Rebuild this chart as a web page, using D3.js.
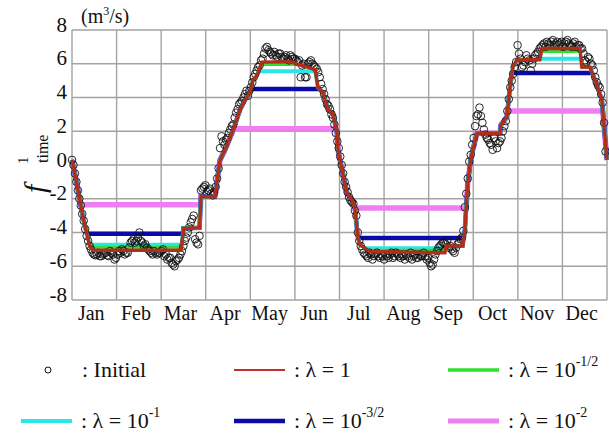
<!DOCTYPE html>
<html>
<head>
<meta charset="utf-8">
<script src="https://cdn.jsdelivr.net/npm/d3@7"></script>
<style>
  body { margin: 0; background: #fff; }
  svg { display: block; }
  text { font-family: "Liberation Serif", "Times New Roman", serif; fill: #111; }
</style>
</head>
<body>
<svg id="chart" width="609" height="434"></svg>
<script>
// Month labels along the horizontal axis (12 equal-width bins over the year)
const months = ["Jan", "Feb", "Mar", "Apr", "May", "Jun", "Jul", "Aug", "Sep", "Oct", "Nov", "Dec"];
const yTicks = [8, 6, 4, 2, 0, -2, -4, -6, -8];

// Initial estimate on even days of the year (day 0, 2, 4, ...)
const initialEven = [
  0.3, -0.5, -1.5, -2.4, -3.3, -4.2, -4.8, -5.2, -5.35, -5.2,
  -5.4, -5.25, -5.35, -5.1, -5.3, -5.5, -5.1, -5.0, -5.3, -5.2,
  -4.6, -4.4, -4.5, -4.0, -4.6, -4.7, -5.0, -5.2, -5.1, -5.3,
  -5.2, -5.0, -5.3, -5.5, -5.8, -6.0, -5.6, -5.3, -4.8, -4.3,
  -3.7, -3.2, -4.4, -4.7, -1.5, -1.3, -1.6, -1.4, -1.8, -1.3,
  -0.2, 1.7, 1.2, 1.6, 2.1, 2.4, 3.1, 3.6, 3.8, 4.2,
  4.1, 4.6, 5.2, 5.6, 5.9, 6.3, 6.9, 6.8, 6.6, 6.7,
  6.4, 6.6, 6.3, 6.5, 6.2, 6.4, 6.3, 6.1, 5.2, 6.0,
  5.2, 6.1, 6.0, 5.8, 5.5, 4.8, 4.2, 3.6, 3.3, 2.8,
  1.9, 1.0, 0.0, -1.0, -1.6, -2.1, -2.3, -3.0, -4.5, -5.0,
  -5.3, -5.5, -5.3, -5.4, -5.2, -5.5, -5.4, -5.3, -5.5, -5.2,
  -5.4, -5.3, -5.5, -5.4, -5.3, -5.5, -5.6, -5.3, -5.5, -5.4,
  -5.2, -5.6, -5.8, -5.9, -5.3, -4.9, -4.7, -4.6, -4.5, -4.8,
  -5.1, -4.9, -4.6, -4.3, -2.5, -0.8, 0.6, 1.6, 2.9, 3.4,
  2.5, 1.8, 1.5, 1.2, 1.6, 1.0, 1.4, 2.0, 2.6, 3.9,
  5.0, 5.8, 7.1, 6.3, 5.9, 6.5, 6.2, 6.0, 6.5, 6.7,
  7.0, 7.2, 7.3, 7.1, 7.4, 7.2, 7.1, 7.3, 7.2, 7.4,
  7.1, 7.2, 7.0, 7.1, 6.9, 6.2, 6.4, 6.0, 5.6, 4.9,
  4.6, 3.7, 0.8
];
// ... and on odd days (day 1, 3, 5, ...)
const initialOdd = [
  0.0, -1.0, -2.0, -2.9, -3.8, -4.5, -5.0, -5.3, -5.3, -5.4,
  -5.3, -5.2, -5.4, -5.2, -5.6, -5.3, -5.2, -5.1, -5.2, -4.9,
  -4.5, -4.6, -4.3, -4.5, -4.8, -4.9, -5.1, -5.3, -5.2, -5.2,
  -5.1, -5.4, -5.6, -5.5, -5.9, -5.7, -5.5, -5.1, -4.5, -4.0,
  -3.4, -3.0, -4.6, -4.2, -1.4, -1.2, -1.5, -1.7, -1.6, -0.8,
  1.0, 1.4, 1.5, 1.9, 2.3, 2.8, 3.3, 3.7, 4.0, 4.4,
  4.4, 4.9, 5.4, 5.8, 6.2, 6.6, 7.0, 6.7, 6.5, 6.5,
  6.6, 6.4, 6.4, 6.3, 6.5, 6.3, 6.2, 6.2, 5.9, 5.2,
  6.0, 6.2, 5.9, 5.7, 5.2, 4.5, 3.9, 3.5, 3.0, 2.4,
  1.4, 0.5, -0.5, -1.3, -1.9, -2.2, -2.7, -4.0, -4.8, -5.2,
  -5.4, -5.2, -5.6, -5.3, -5.4, -5.3, -5.6, -5.4, -5.3, -5.5,
  -5.2, -5.4, -5.3, -5.6, -5.4, -5.2, -5.4, -5.5, -5.3, -5.4,
  -5.4, -5.5, -6.0, -5.6, -5.1, -4.8, -4.6, -4.7, -4.9, -5.0,
  -5.2, -4.7, -4.4, -3.9, -1.7, 0.2, 1.2, 2.3, 3.0, 2.9,
  2.1, 1.6, 1.3, 0.9, 1.4, 1.3, 1.6, 2.3, 3.2, 4.6,
  5.4, 6.1, 6.6, 5.8, 6.1, 6.3, 5.6, 6.3, 6.6, 6.9,
  7.1, 7.0, 7.2, 7.3, 7.1, 7.3, 7.2, 7.0, 7.3, 7.2,
  7.0, 7.3, 7.1, 6.9, 6.6, 6.1, 6.3, 5.9, 5.2, 4.7,
  4.2, 2.5
];
const initialPoints = initialEven.map((v, i) => [i * 2, v])
  .concat(initialOdd.map((v, i) => [i * 2 + 1, v]));

// λ = 1 solution: breakpoints (day of year) and values
const fitDays = [
  0, 3.2, 7.5, 12.3, 14.3, 74.5, 76, 87, 88, 97.5,
  101, 104.4, 110, 114.6, 118, 121.4, 123.5, 126.2, 129.6, 148.7,
  155.5, 165.8, 167.8, 171.2, 174.6, 178, 180.8, 181.5, 182.8, 186.2,
  187.6, 191, 193, 195, 196.5, 198.5, 203.3, 254.4, 255.2, 266.7,
  268, 270, 272, 273.5, 276.3, 292, 292.6, 296.7, 298.8, 300.8,
  303.5, 319.2, 320.6, 346.5, 347.9, 353.4, 358, 361.5, 365
];
const fitValues = [
  0.3, -1.07, -3.1, -4.85, -5.05, -5.05, -3.75, -3.72, -1.88, -1.88,
  0.3, 0.9, 2.07, 3.26, 3.85, 4.27, 5.04, 5.3, 6.1, 6.12,
  5.93, 5.65, 4.6, 4.3, 3.26, 3.07, 1.9, 0.9, 0.3, -1.1,
  -1.66, -2.07, -2.56, -4.25, -4.74, -4.84, -5.13, -5.2, -4.8, -4.8,
  -3.85, -1.07, 0.3, 0.9, 1.88, 1.88, 2.37, 2.85, 4.6, 5.8,
  6.22, 6.25, 6.9, 6.9, 5.8, 5.8, 4.74, 3.85, 0.3
];

// Smaller λ: the same path, with the seasonal extremes flattened to a level
// [first day, last day, level]
const plateausHalf = [[12.6, 74.7, -4.88], [128.8, 156, 5.95], [202, 254.7, -5.05], [320.2, 346.7, 6.72]];
const plateausOne = [[12.0, 74.9, -4.72], [127.3, 166, 5.55], [200, 254.9, -4.93], [319.3, 347.3, 6.3]];
const plateausThreeHalf = [[10.2, 75.6, -4.08], [122.0, 168.9, 4.5], [195.2, 267.3, -4.33], [300.2, 354.9, 5.45]];
const plateausTwo = [[5.9, 87.7, -2.35], [112, 180.2, 2.15], [193.2, 268.9, -2.55], [297.1, 362.1, 3.2]];

const svg = d3.select("#chart");
const plotLeft = 72, plotRight = 607, plotTop = 30, plotBottom = 300;

const x = d3.scaleLinear().domain([0, 365]).range([plotLeft, plotRight]);
const y = d3.scaleLinear().domain([-8, 8]).range([plotBottom, plotTop]);
const monthScale = d3.scaleBand().domain(months).range([plotLeft, plotRight]);

// grid
const grid = svg.append("g").attr("stroke", "#a3a3a3").attr("stroke-width", 1.4);
grid.selectAll("line.h").data(yTicks).join("line")
  .attr("x1", plotLeft).attr("x2", plotRight)
  .attr("y1", d => y(d)).attr("y2", d => y(d));
grid.selectAll("line.v").data(d3.range(months.length + 1)).join("line")
  .attr("y1", plotTop).attr("y2", plotBottom)
  .attr("x1", i => i === months.length ? plotRight : monthScale(months[i]))
  .attr("x2", i => i === months.length ? plotRight : monthScale(months[i]));

// y tick labels
svg.append("g").selectAll("text").data(yTicks).join("text")
  .attr("x", 67).attr("y", d => y(d) + 1.5)
  .attr("text-anchor", "end").attr("font-size", 21)
  .text(d => d);

// month labels
svg.append("g").selectAll("text").data(months).join("text")
  .attr("x", d => monthScale(d) + monthScale.bandwidth() / 2 - 3)
  .attr("y", 320).attr("text-anchor", "middle").attr("font-size", 20)
  .text(d => d);

// unit label
const unit = svg.append("text").attr("x", 81).attr("y", 23).attr("font-size", 20);
unit.append("tspan").text("(m");
unit.append("tspan").attr("font-size", 12).attr("dy", -8).text("3");
unit.append("tspan").attr("dy", 8).text("/s)");

// y title f_time^1
const yt = svg.append("g").attr("transform", "translate(45,193) rotate(-90)");
yt.append("text").attr("x", 0).attr("y", 0).attr("font-size", 30).attr("font-style", "italic").text("f");
yt.append("text").attr("x", 29).attr("y", -17).attr("font-size", 15).text("1");
yt.append("text").attr("x", 30).attr("y", 3).attr("font-size", 16).text("time");

// series paths
const line = d3.line().x(d => x(d[0])).y(d => y(d[1]));
const fitPoints = fitDays.map((d, i) => [d, fitValues[i]]);

function flattened(plateaus) {
  const pts = [];
  let pi = 0;
  fitPoints.forEach(p => {
    while (pi < plateaus.length && p[0] > plateaus[pi][1]) {
      pts.push([plateaus[pi][0], plateaus[pi][2]], [plateaus[pi][1], plateaus[pi][2]]);
      pi++;
    }
    if (pi < plateaus.length && p[0] >= plateaus[pi][0]) return;
    pts.push(p);
  });
  return pts.sort((a, b) => a[0] - b[0]);
}

const plot = svg.append("g");
const series = [
  { pl: plateausTwo, color: "#f07ef0", w: 5.5 },
  { pl: plateausThreeHalf, color: "#0a0aaa", w: 4.5 },
  { pl: plateausOne, color: "#2be6e6", w: 4 },
  { pl: plateausHalf, color: "#2fe02f", w: 3 }
];
series.forEach(s => {
  plot.append("path").attr("d", line(flattened(s.pl)))
    .attr("fill", "none").attr("stroke", s.color).attr("stroke-width", s.w)
    .attr("stroke-linejoin", "miter");
});

// initial estimate markers
plot.append("g").selectAll("circle").data(initialPoints).join("circle")
  .attr("cx", d => x(d[0])).attr("cy", d => y(d[1]))
  .attr("r", 3.8).attr("fill", "none").attr("stroke", "#111").attr("stroke-width", 0.9);

// λ = 1 on top
plot.append("path").attr("d", line(fitPoints))
  .attr("fill", "none").attr("stroke", "#b12e1c").attr("stroke-width", 3.4);

// legend
const legend = svg.append("g").attr("font-size", 22);
legend.append("circle").attr("cx", 48).attr("cy", 370).attr("r", 3)
  .attr("fill", "none").attr("stroke", "#111").attr("stroke-width", 1);
legend.append("text").attr("x", 82).attr("y", 377).text(": Initial");

const legendItems = [
  { x: 234, y: 370, color: "#c0302a", w: 2, sup: null, base: ": λ = 1" },
  { x: 448, y: 370, color: "#2fe02f", w: 3.5, sup: "-1/2", base: ": λ = 10" },
  { x: 21, y: 421, color: "#2be6e6", w: 4, sup: "-1", base: ": λ = 10" },
  { x: 234, y: 421, color: "#0a0aaa", w: 4.5, sup: "-3/2", base: ": λ = 10" },
  { x: 448, y: 421, color: "#f07ef0", w: 5, sup: "-2", base: ": λ = 10" }
];
legendItems.forEach(it => {
  legend.append("line").attr("x1", it.x).attr("x2", it.x + 51)
    .attr("y1", it.y).attr("y2", it.y)
    .attr("stroke", it.color).attr("stroke-width", it.w);
  const t = legend.append("text").attr("x", it.x + 60).attr("y", it.y + 6.5).attr("xml:space", "preserve");
  t.append("tspan").text(it.base);
  if (it.sup) t.append("tspan").attr("font-size", 14).attr("dy", -11).text(it.sup);
});
</script>
</body>
</html>
